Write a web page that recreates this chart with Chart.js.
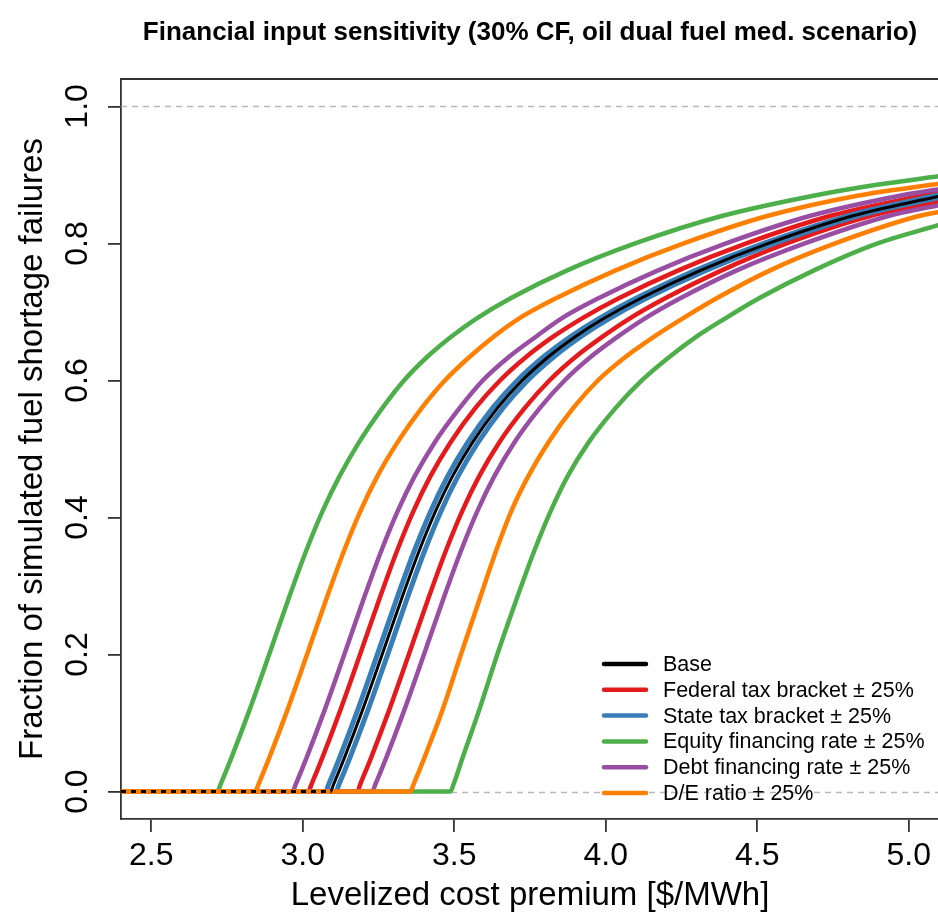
<!DOCTYPE html>
<html><head><meta charset="utf-8">
<script src="https://cdn.jsdelivr.net/npm/chart.js@4"></script>
<style>
html,body{margin:0;padding:0;background:#fff;overflow:hidden;}
#wrap{position:absolute;left:0;top:0;width:940px;height:924px;}
</style></head><body>
<div id="wrap"><canvas id="c" width="940" height="924"></canvas></div>
<script>
const chartTitle = 'Financial input sensitivity (30% CF, oil dual fuel med. scenario)';
const xTitle = 'Levelized cost premium [$/MWh]';
const yTitle = 'Fraction of simulated fuel shortage failures';
const xTicks = [2.5, 3.0, 3.5, 4.0, 4.5, 5.0];
const yTicks = [0.0, 0.2, 0.4, 0.6, 0.8, 1.0];
const refLines = [0, 1];
const seriesNames = ['Base', 'Federal tax bracket \u00b1 25%', 'State tax bracket \u00b1 25%', 'Equity financing rate \u00b1 25%', 'Debt financing rate \u00b1 25%', 'D/E ratio \u00b1 25%'];
const seriesColors = ['#000000', '#E41A1C', '#377EB8', '#4DAF4A', '#984EA3', '#FF7F00'];

// [x, fraction] pairs
const baseCurve = [[2.4,0],[3.091,0],[3.102,0.011],[3.138,0.05],[3.198,0.12],[3.262,0.20],[3.325,0.28],[3.383,0.35],[3.439,0.41],[3.494,0.46],[3.561,0.51],[3.643,0.56],[3.724,0.60],[3.812,0.635],[3.903,0.665],[3.992,0.69],[4.116,0.72],[4.309,0.76],[4.537,0.80],[4.813,0.84],[5.10,0.869]];
const federalLow = [[2.4,0],[3.018,0],[3.029,0.011],[3.065,0.05],[3.125,0.12],[3.189,0.20],[3.252,0.28],[3.31,0.35],[3.366,0.41],[3.421,0.46],[3.488,0.51],[3.57,0.56],[3.651,0.60],[3.739,0.635],[3.83,0.665],[3.919,0.69],[4.043,0.72],[4.236,0.76],[4.464,0.80],[4.74,0.84],[5.10,0.875]];
const federalHigh = [[2.4,0],[3.18,0],[3.19,0.011],[3.226,0.05],[3.286,0.12],[3.35,0.20],[3.413,0.28],[3.471,0.35],[3.527,0.41],[3.582,0.46],[3.649,0.51],[3.733,0.56],[3.814,0.60],[3.902,0.635],[3.993,0.665],[4.077,0.69],[4.196,0.72],[4.379,0.76],[4.597,0.80],[4.873,0.84],[5.10,0.861]];
const stateLow = [[2.4,0],[3.075,0],[3.086,0.011],[3.122,0.05],[3.182,0.12],[3.246,0.20],[3.309,0.28],[3.367,0.35],[3.423,0.41],[3.478,0.46],[3.545,0.51],[3.627,0.56],[3.708,0.60],[3.796,0.635],[3.887,0.665],[3.976,0.69],[4.10,0.72],[4.293,0.76],[4.521,0.80],[4.797,0.84],[5.10,0.871]];
const stateHigh = [[2.4,0],[3.109,0],[3.12,0.011],[3.156,0.05],[3.216,0.12],[3.28,0.20],[3.343,0.28],[3.401,0.35],[3.457,0.41],[3.512,0.46],[3.579,0.51],[3.661,0.56],[3.742,0.60],[3.83,0.635],[3.921,0.665],[4.01,0.69],[4.134,0.72],[4.327,0.76],[4.555,0.80],[4.831,0.84],[5.10,0.867]];
const equityLow = [[2.4,0],[2.718,0],[2.729,0.011],[2.765,0.05],[2.825,0.12],[2.889,0.20],[2.952,0.28],[3.01,0.35],[3.066,0.41],[3.121,0.46],[3.186,0.51],[3.263,0.56],[3.334,0.60],[3.412,0.635],[3.493,0.665],[3.572,0.69],[3.686,0.72],[3.869,0.76],[4.097,0.80],[4.383,0.84],[4.69,0.87],[4.90,0.886],[5.10,0.898]];
const equityHigh = [[2.4,0],[3.487,0],[3.498,0.011],[3.528,0.05],[3.583,0.12],[3.642,0.20],[3.705,0.28],[3.763,0.35],[3.819,0.41],[3.874,0.46],[3.944,0.51],[4.033,0.56],[4.119,0.60],[4.212,0.635],[4.303,0.665],[4.392,0.69],[4.506,0.72],[4.684,0.76],[4.897,0.80],[5.10,0.827]];
const debtLow = [[2.4,0],[2.966,0],[2.977,0.011],[3.013,0.05],[3.073,0.12],[3.137,0.20],[3.20,0.28],[3.258,0.35],[3.314,0.41],[3.369,0.46],[3.436,0.51],[3.518,0.56],[3.594,0.60],[3.682,0.635],[3.773,0.665],[3.852,0.69],[3.976,0.72],[4.169,0.76],[4.397,0.80],[4.673,0.84],[4.975,0.87],[5.10,0.879]];
const debtHigh = [[2.4,0],[3.229,0],[3.24,0.011],[3.276,0.05],[3.336,0.12],[3.40,0.20],[3.463,0.28],[3.521,0.35],[3.577,0.41],[3.632,0.46],[3.699,0.51],[3.783,0.56],[3.864,0.60],[3.952,0.635],[4.043,0.665],[4.127,0.69],[4.246,0.72],[4.429,0.76],[4.657,0.80],[4.933,0.84],[5.10,0.856]];
const deLow = [[2.4,0],[2.843,0],[2.854,0.011],[2.89,0.05],[2.95,0.12],[3.014,0.20],[3.077,0.28],[3.135,0.35],[3.191,0.41],[3.246,0.46],[3.313,0.51],[3.393,0.56],[3.469,0.60],[3.552,0.635],[3.633,0.665],[3.712,0.69],[3.836,0.72],[4.029,0.76],[4.257,0.80],[4.533,0.84],[4.835,0.87],[5.10,0.887]];
const deHigh = [[2.4,0],[3.355,0],[3.366,0.011],[3.402,0.05],[3.462,0.12],[3.522,0.20],[3.583,0.28],[3.637,0.35],[3.689,0.41],[3.744,0.46],[3.811,0.51],[3.893,0.56],[3.974,0.60],[4.067,0.635],[4.163,0.665],[4.252,0.69],[4.366,0.72],[4.539,0.76],[4.757,0.80],[5.033,0.84],[5.10,0.846]];

const FONT = "'Liberation Sans', Arial, Helvetica, sans-serif";
const toPts = a => a.map(p => ({x: p[0], y: p[1]}));

function ds(label, data, color, width, order, extra) {
  return Object.assign({
    label, data: toPts(data), borderColor: color, backgroundColor: color,
    borderWidth: width, pointRadius: 0, pointHoverRadius: 0, fill: false,
    cubicInterpolationMode: 'monotone', order, borderCapStyle: 'round', borderJoinStyle: 'round'
  }, extra || {});
}

const datasets = [
  ds(seriesNames[1], federalLow, seriesColors[1], 4.5, 5),
  ds(seriesNames[1], federalHigh, seriesColors[1], 4.5, 5),
  ds(seriesNames[2], stateLow, seriesColors[2], 5, 4),
  ds(seriesNames[2], stateHigh, seriesColors[2], 5, 4),
  ds(seriesNames[3], equityLow, seriesColors[3], 4.5, 3),
  ds(seriesNames[3], equityHigh, seriesColors[3], 4.5, 3),
  ds(seriesNames[4], debtLow, seriesColors[4], 4.5, 2),
  ds(seriesNames[4], debtHigh, seriesColors[4], 4.5, 2),
  ds(seriesNames[5], deLow, seriesColors[5], 4.5, 1),
  ds(seriesNames[5], deHigh, seriesColors[5], 4.5, 1),
  ds(seriesNames[0], baseCurve, seriesColors[0], 3, 0, {
    borderCapStyle: 'butt',
    segment: { borderDash: c => (c.p0.parsed.y === 0 && c.p1.parsed.y === 0) ? [5, 5] : undefined }
  })
];

const decor = {
  id: 'decor',
  beforeDatasetsDraw(chart) {
    const {ctx, chartArea: a, scales: {y}} = chart;
    ctx.save();
    ctx.strokeStyle = '#b8b8b8'; ctx.lineWidth = 1.3; ctx.setLineDash([6, 5]);
    refLines.forEach(v => {
      const py = Math.round(y.getPixelForValue(v)) + 0.5;
      ctx.beginPath(); ctx.moveTo(a.left, py); ctx.lineTo(a.right, py); ctx.stroke();
    });
    ctx.restore();
  },
  afterDraw(chart) {
    const {ctx, chartArea: a, scales: {y}} = chart;
    ctx.save();
    ctx.strokeStyle = '#333'; ctx.lineWidth = 1.8; ctx.setLineDash([]);
    ctx.beginPath(); ctx.moveTo(a.left, a.top); ctx.lineTo(a.right + 2, a.top); ctx.stroke();
    ctx.fillStyle = '#000';
    ctx.font = 'bold 26px ' + FONT;
    ctx.textAlign = 'center'; ctx.textBaseline = 'alphabetic';
    ctx.fillText(chartTitle, (a.left + a.right) / 2, 40);
    ctx.font = '32px ' + FONT;
    ctx.textBaseline = 'middle';
    yTicks.forEach(v => {
      const py = y.getPixelForValue(v);
      ctx.save(); ctx.translate(78, py); ctx.rotate(-Math.PI / 2);
      ctx.fillText(v.toFixed(1), 0, 0);
      ctx.restore();
    });
    ctx.font = '21.5px ' + FONT;
    ctx.textAlign = 'left';
    seriesNames.forEach((n, i) => {
      const ly = 664 + i * 25.8;
      ctx.strokeStyle = seriesColors[i]; ctx.lineWidth = 4.5; ctx.lineCap = 'round';
      ctx.beginPath(); ctx.moveTo(604, ly); ctx.lineTo(646, ly); ctx.stroke();
      ctx.fillStyle = '#000';
      ctx.fillText(n, 663, ly + 1);
    });
    ctx.restore();
  }
};

new Chart(document.getElementById('c'), {
  type: 'line',
  data: { datasets },
  options: {
    responsive: false, animation: false, devicePixelRatio: 1,
    layout: { padding: { top: 79, right: 1, left: 0, bottom: 0 } },
    plugins: { legend: { display: false }, tooltip: { enabled: false }, title: { display: false } },
    scales: {
      x: {
        type: 'linear', min: 2.4, max: 5.1,
        afterBuildTicks: s => { s.ticks = xTicks.map(v => ({value: v})); },
        afterFit: s => { s.height = 105; },
        ticks: { font: {size: 32, family: FONT}, color: '#000', padding: 5, maxRotation: 0, autoSkip: false,
                 callback: v => Number(v).toFixed(1) },
        grid: { drawOnChartArea: false, drawTicks: true, tickLength: 13, color: '#333', lineWidth: 1.8 },
        border: { display: true, color: '#333', width: 1.8 },
        title: { display: true, text: xTitle, color: '#000', font: {size: 33, family: FONT}, padding: {top: 0, bottom: 8} }
      },
      y: {
        type: 'linear', min: -0.04, max: 1.04,
        afterBuildTicks: s => { s.ticks = yTicks.map(v => ({value: v})); },
        afterFit: s => { s.width = 121; },
        ticks: { display: false },
        grid: { drawOnChartArea: false, drawTicks: true, tickLength: 13, color: '#333', lineWidth: 1.8 },
        border: { display: true, color: '#333', width: 1.8 },
        title: { display: true, text: yTitle, color: '#000', font: {size: 33, family: FONT}, padding: {top: 13, bottom: 0} }
      }
    }
  },
  plugins: [decor]
});
</script>
</body></html>
